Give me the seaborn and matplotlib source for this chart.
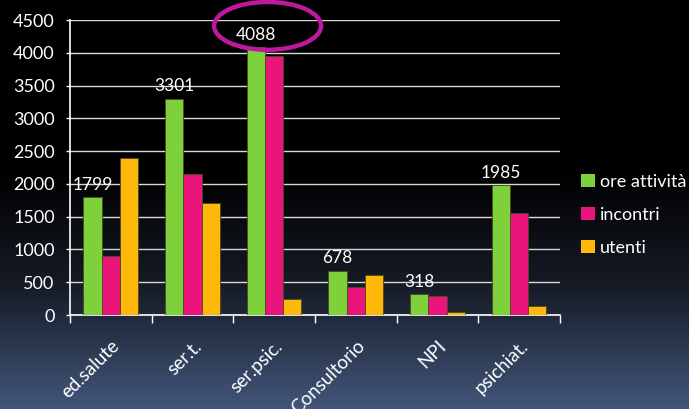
import matplotlib.pyplot as plt
import matplotlib.patches as mpatches
from matplotlib.colors import LinearSegmentedColormap
import seaborn as sns
import numpy as np
import pandas as pd

# dati
categorie = ["ed.salute", "ser.t.", "ser.psic.", "Consultorio", "NPI", "psichiat."]
ore_attivita = [1799, 3301, 4088, 678, 318, 1985]
incontri = [900, 2150, 3950, 430, 290, 1550]
utenti = [2390, 1710, 250, 610, 50, 130]
serie = ["ore attività", "incontri", "utenti"]
colori = ["#7fd13b", "#ea157a", "#feb80a"]

df = pd.DataFrame({
    "categoria": categorie * 3,
    "valore": ore_attivita + incontri + utenti,
    "serie": [s for s in serie for _ in categorie],
})

plt.rcParams["font.family"] = ["Lato", "DejaVu Sans"]

fig = plt.figure(figsize=(6.89, 4.09), dpi=100)

# sfondo sfumato
bg = fig.add_axes([0, 0, 1, 1], zorder=-10)
cmap = LinearSegmentedColormap.from_list(
    "bg", [(0, "#000000"), (0.42, "#000000"), (0.7, "#161b26"), (1.0, "#42567a")])
grad = np.linspace(0, 1, 256).reshape(-1, 1)
bg.imshow(grad, aspect="auto", cmap=cmap, extent=[0, 1, 0, 1])
bg.axis("off")

ax = fig.add_axes([0.1016, 0.2298, 0.711, 0.7213])
ax.set_facecolor("none")

sns.barplot(data=df, x="categoria", y="valore", hue="serie", palette=colori,
            saturation=1, width=0.67, edgecolor="#4a4a20", linewidth=0.6,
            ax=ax, zorder=3, legend=False)

ax.set_ylim(0, 4500)
ax.set_xlim(-0.5, 5.5)
ax.set_yticks(np.arange(0, 4501, 500))
ax.yaxis.grid(True, color="#d9d9d9", linewidth=1, zorder=0)
ax.set_axisbelow(True)
ax.set_xlabel("")
ax.set_ylabel("")

for s in ["top", "right"]:
    ax.spines[s].set_visible(False)
for s in ["left", "bottom"]:
    ax.spines[s].set_color("white")
    ax.spines[s].set_linewidth(1.2)

ax.tick_params(axis="y", colors="white", labelsize=13, length=3, width=1, pad=8)
ax.tick_params(axis="x", colors="white", labelsize=13.5, length=0, pad=16)
# tacche tra le categorie
ax.set_xticks(np.arange(-0.5, 6, 1), minor=True)
ax.tick_params(axis="x", which="minor", length=6, width=1, color="white")
for lab in ax.get_xticklabels():
    lab.set_rotation(45)
    lab.set_ha("right")
    lab.set_rotation_mode("anchor")

# etichette sui valori verdi
ax.bar_label(ax.containers[0], labels=[str(v) for v in ore_attivita],
             color="white", fontsize=12.5, padding=3)

# ellisse attorno a 4088
ell = mpatches.Ellipse((2 - 0.08, 4410), 1.31, 730, fill=False,
                       edgecolor="#c0189c", linewidth=3.2, clip_on=False, zorder=5)
ax.add_patch(ell)

handles = [mpatches.Patch(facecolor=c, edgecolor="none") for c in colori]
fig.legend(handles, serie, loc="upper left", bbox_to_anchor=(0.82, 0.615),
           frameon=False, labelcolor="white", fontsize=13,
           handlelength=0.75, handleheight=0.75, handletextpad=0.3, labelspacing=0.95)

fig.savefig("out.png", dpi=100)
